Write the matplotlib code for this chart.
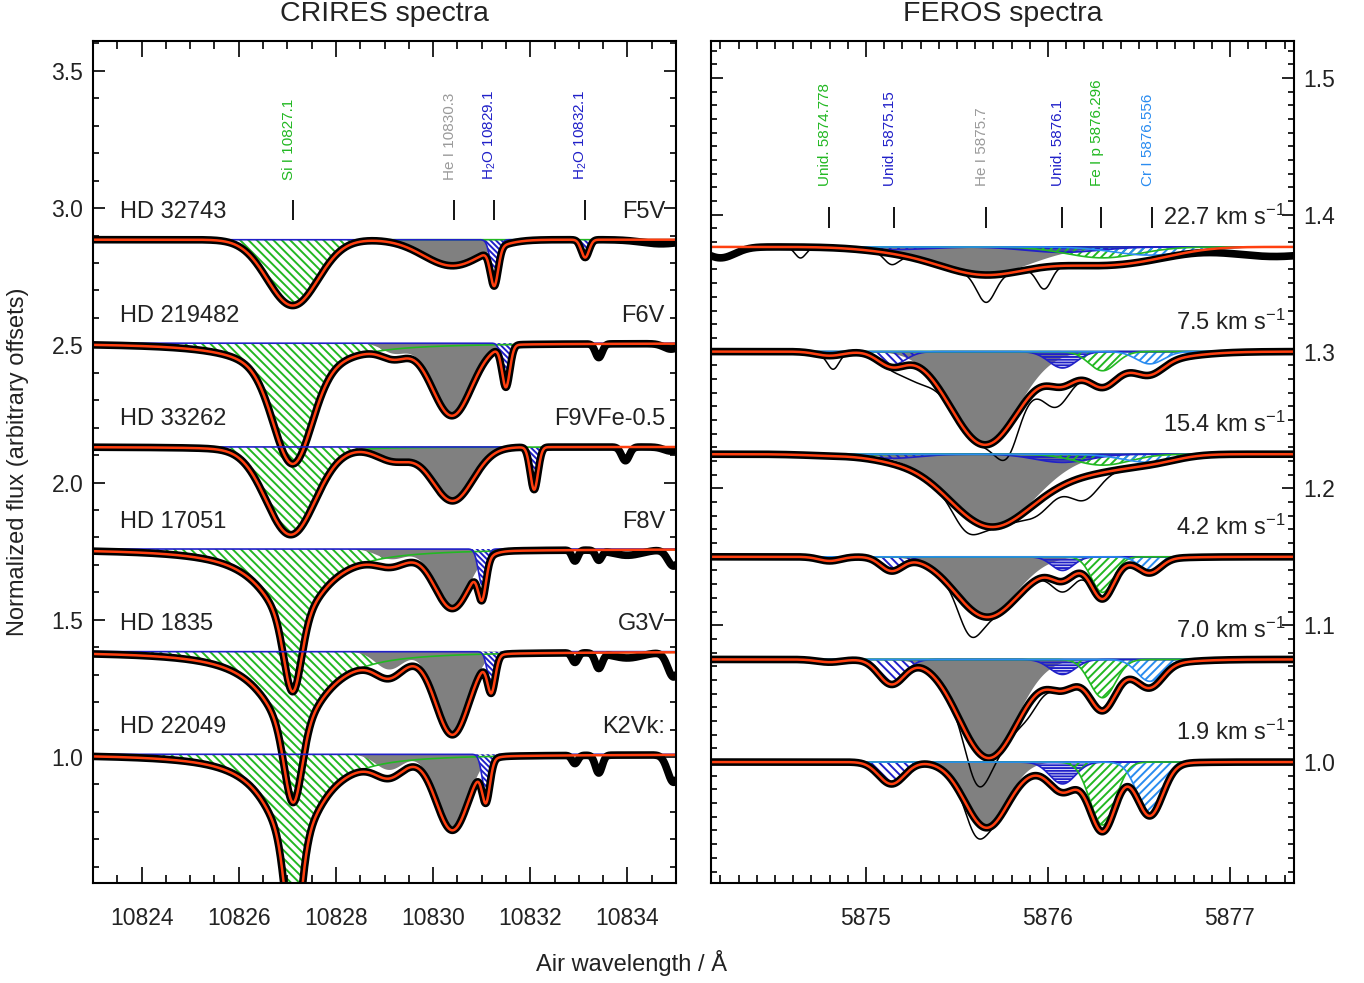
import numpy as np
import matplotlib
matplotlib.use('Agg')
import matplotlib.pyplot as plt
import matplotlib.transforms as mtransforms
from matplotlib.ticker import MultipleLocator, FormatStrFormatter

plt.rcParams['font.family'] = ['Liberation Sans', 'DejaVu Sans']
plt.rcParams['mathtext.fontset'] = 'custom'
plt.rcParams['mathtext.rm'] = 'Liberation Sans'
plt.rcParams['mathtext.it'] = 'Liberation Sans:italic'
plt.rcParams['hatch.linewidth'] = 1.4

# --- stars (top to bottom) ---
STARS = ['HD 32743', 'HD 219482', 'HD 33262', 'HD 17051', 'HD 1835', 'HD 22049']
SPTYPES = ['F5V', 'F6V', 'F9VFe-0.5', 'F8V', 'G3V', 'K2Vk:']
VSINI = ['22.7', '7.5', '15.4', '4.2', '7.0', '1.9']

# --- CRIRES fit components ---
CR_CONT = [2.885, 2.508, 2.130, 1.758, 1.384, 1.010]
SI_CENTER = [10827.11, 10827.11, 10827.07, 10827.11, 10827.12, 10827.12]
SI_CORE_DEPTH = [0.24, 0.27, 0.29, 0.24, 0.25, 0.35]
SI_CORE_SIGMA = [0.52, 0.38, 0.50, 0.17, 0.17, 0.15]
SI_WING_DEPTH = [0.0, 0.17, 0.03, 0.28, 0.30, 0.35]
SI_WING_GAMMA = [0.8, 0.8, 0.8, 0.70, 0.70, 0.62]
HE_CENTER = [10830.40, 10830.39, 10830.40, 10830.40, 10830.40, 10830.40]
HE_DEPTH = [0.095, 0.255, 0.195, 0.205, 0.29, 0.265]
HE_SIGMA = [0.60, 0.40, 0.42, 0.36, 0.34, 0.33]
BLEND_CENTER = [10829.2, 10829.2, 10829.2, 10829.15, 10829.1, 10829.1]
BLEND_DEPTH = [0.0, 0.036, 0.048, 0.037, 0.065, 0.057]
BLEND_SIGMA = [0.3, 0.25, 0.35, 0.3, 0.28, 0.28]
H2O_CENTER = [10831.26, 10831.50, 10832.08, 10831.01, 10831.20, 10831.09]
H2O_DEPTH = [0.135, 0.15, 0.155, 0.13, 0.125, 0.14]
H2O_SIGMA = [0.08, 0.08, 0.08, 0.08, 0.08, 0.08]
H2O2_CENTER = [10833.13, 10833.41, 10833.96, 10832.92, 10833.41, 10833.41]
H2O2_DEPTH = [0.065, 0.0, 0.0, 0.0, 0.0, 0.0]
# features seen only in the observed spectrum (centre, depth, width)
CR_OBS_EXTRA = [
    [(10834.7, 0.015, 0.4)],
    [(10833.41, 0.05, 0.07), (10834.9, 0.02, 0.15)],
    [(10833.96, 0.05, 0.08), (10834.9, 0.015, 0.15)],
    [(10832.92, 0.04, 0.06), (10833.41, 0.035, 0.06), (10834.0, 0.02, 0.3), (10834.95, 0.06, 0.12)],
    [(10832.92, 0.035, 0.06), (10833.41, 0.055, 0.07), (10834.0, 0.02, 0.3), (10834.95, 0.09, 0.12)],
    [(10832.92, 0.03, 0.06), (10833.41, 0.065, 0.07), (10834.95, 0.10, 0.12)],
]
CR_LINE_LABELS = ['Si I 10827.1', 'He I 10830.3', 'H$_2$O 10829.1', 'H$_2$O 10832.1']
CR_LINE_POS = [10827.11, 10830.43, 10831.26, 10833.13]

# --- FEROS fit components ---
FE_CONT = [1.3765, 1.300, 1.225, 1.150, 1.075, 1.000]
FHE_CENTER = [5875.65, 5875.65, 5875.69, 5875.66, 5875.67, 5875.66]
FHE_DEPTH = [0.020, 0.067, 0.053, 0.042, 0.070, 0.046]
FHE_SIGMA = [0.26, 0.185, 0.24, 0.17, 0.16, 0.117]
# metal lines: Unid. 5874.778, Unid. 5875.15, Unid. 5876.1, Fe I p, Cr I
METAL_CENTER = [5874.80, 5875.14, 5876.08, 5876.30, 5876.56]
METAL_DEPTH = [
    [0.000, 0.002, 0.004, 0.008, 0.006],
    [0.003, 0.010, 0.012, 0.014, 0.009],
    [0.001, 0.003, 0.006, 0.008, 0.006],
    [0.003, 0.010, 0.010, 0.026, 0.010],
    [0.002, 0.018, 0.011, 0.028, 0.016],
    [0.000, 0.016, 0.016, 0.046, 0.0375],
]
METAL_SIGMA = [0.20, 0.075, 0.15, 0.06, 0.07, 0.07]
BROAD_CENTER = [5876.3, 5876.3, 5876.3, 5876.1, 5876.2, 5876.1]
BROAD_DEPTH = [0.0, 0.012, 0.0, 0.006, 0.010, 0.006]
BROAD_SIGMA = [0.3, 0.3, 0.3, 0.3, 0.3, 0.3]
# thin comparison spectrum: extra absorption relative to the fit
THIN_EXTRA = [
    [(5874.64, 0.008, 0.03), (5875.14, 0.008, 0.04), (5875.66, 0.02, 0.05), (5875.98, 0.016, 0.04)],
    [(5874.82, 0.010, 0.03), (5875.28, 0.012, 0.08), (5875.78, 0.022, 0.06), (5876.03, 0.015, 0.07)],
    [(5875.55, 0.012, 0.07), (5875.95, 0.010, 0.08), (5876.20, 0.017, 0.08)],
    [(5875.57, 0.020, 0.06), (5876.10, 0.008, 0.08)],
    [(5875.61, 0.025, 0.06), (5875.90, 0.010, 0.06)],
    [(5875.60, 0.012, 0.05)],
]
FE_OBS_EXTRA = [
    [(5874.20, 0.008, 0.08), (5877.25, 0.007, 0.25)],
    [], [], [], [], [],
]
FE_LINE_LABELS = ['Unid. 5874.778', 'Unid. 5875.15', 'He I 5875.7', 'Unid. 5876.1',
                  'Fe I p 5876.296', 'Cr I 5876.556']
FE_LINE_POS = [5874.797, 5875.154, 5875.659, 5876.077, 5876.291, 5876.571]

GREEN = '#22b822'
BLUE = '#2020c8'
LBLUE = '#2a8cf0'
RED = '#ff4010'
GREY_FILL = '#808080'
GREY_TXT = '#9a9a9a'
TXT = '#222222'

CR_LINE_COLORS = [GREEN, GREY_TXT, BLUE, BLUE]
FE_LINE_COLORS = [GREEN, BLUE, GREY_TXT, BLUE, GREEN, LBLUE]
METAL_COLORS = [GREEN, BLUE, BLUE, GREEN, LBLUE]
METAL_HATCH = ['////', '\\' * 4, '-' * 6, '////', '////']
SI_HATCH = '\\' * 4
H2O_HATCH = '\\' * 6


def gauss(x, c, d, s):
    return d * np.exp(-0.5 * ((x - c) / s) ** 2)


def lorentz(x, c, d, g):
    return d / (1.0 + ((x - c) / g) ** 2)


def style_axis(ax, right_labels=False):
    for sp in ax.spines.values():
        sp.set_linewidth(1.5)
    ax.tick_params(which='both', direction='in', top=True, bottom=True,
                   left=True, right=True, width=1.2, colors='black',
                   labelcolor=TXT, labelsize=16.5)
    ax.tick_params(axis='x', which='major', length=11.5, pad=17)
    ax.tick_params(axis='x', which='minor', length=5.8)
    ax.tick_params(axis='y', which='major', length=8.6, pad=7)
    ax.tick_params(axis='y', which='minor', length=4.3)
    if right_labels:
        ax.tick_params(axis='y', labelleft=False, labelright=True)


fig = plt.figure(figsize=(13.64, 9.83), dpi=100)
W, H = 1364.0, 983.0
ax1 = fig.add_axes([93 / W, 1 - 883 / H, 583 / W, 842 / H])
ax2 = fig.add_axes([711 / W, 1 - 883 / H, 583 / W, 842 / H])

# ---------------- CRIRES ----------------
wl = np.linspace(10823, 10835, 1500)
for i in range(len(STARS)):
    c0 = CR_CONT[i]
    si = (gauss(wl, SI_CENTER[i], SI_CORE_DEPTH[i], SI_CORE_SIGMA[i])
          + lorentz(wl, SI_CENTER[i], SI_WING_DEPTH[i], SI_WING_GAMMA[i]))
    he = (gauss(wl, HE_CENTER[i], HE_DEPTH[i], HE_SIGMA[i])
          + gauss(wl, BLEND_CENTER[i], BLEND_DEPTH[i], BLEND_SIGMA[i]))
    h2o = (gauss(wl, H2O_CENTER[i], H2O_DEPTH[i], H2O_SIGMA[i])
           + gauss(wl, H2O2_CENTER[i], H2O2_DEPTH[i], H2O_SIGMA[i]))
    model = c0 - si - he - h2o
    obs = model.copy()
    for (c, d, s) in CR_OBS_EXTRA[i]:
        obs -= gauss(wl, c, d, s)

    ax1.fill_between(wl, c0, c0 - si, facecolor='none', edgecolor=GREEN,
                     hatch=SI_HATCH, linewidth=0)
    ax1.plot(wl, c0 - si, color=GREEN, lw=1.2)
    ax1.fill_between(wl, c0, c0 - he, facecolor=GREY_FILL, linewidth=0)
    ax1.fill_between(wl, c0, c0 - h2o, facecolor='white', edgecolor=BLUE,
                     hatch=H2O_HATCH, linewidth=0)
    ax1.plot(wl, c0 - h2o, color=BLUE, lw=1.2)
    ax1.plot(wl, obs, color='black', lw=5.5, solid_capstyle='round')
    ax1.plot(wl, model, color=RED, lw=1.8)

    ax1.text(10823.55, c0 + 0.10, STARS[i], fontsize=17, color=TXT,
             ha='left', va='center')
    ax1.text(0.981, c0 + 0.10, SPTYPES[i], fontsize=17, color=TXT,
             ha='right', va='center', transform=ax1.get_yaxis_transform())

shift1 = mtransforms.offset_copy(ax1.transData, fig=fig, x=-4, y=0, units='dots')
ax1.vlines(CR_LINE_POS, 2.958, 3.03, color='black', lw=1.3)
for pos, lab, col in zip(CR_LINE_POS, CR_LINE_LABELS, CR_LINE_COLORS):
    ax1.text(pos, 3.103, lab, rotation=90, ha='center', va='bottom',
             fontsize=11, color=col, transform=shift1)

ax1.set_xlim(10823, 10835)
ax1.set_ylim(0.541, 3.609)
ax1.xaxis.set_major_locator(MultipleLocator(2))
ax1.xaxis.set_minor_locator(MultipleLocator(0.5))
ax1.xaxis.set_major_formatter(FormatStrFormatter('%d'))
ax1.yaxis.set_major_locator(MultipleLocator(0.5))
ax1.yaxis.set_minor_locator(MultipleLocator(0.1))
ax1.yaxis.set_major_formatter(FormatStrFormatter('%.1f'))
style_axis(ax1)

# ---------------- FEROS ----------------
wf = np.linspace(5874.148, 5877.352, 1200)
for i in range(len(STARS)):
    c0 = FE_CONT[i]
    he = gauss(wf, FHE_CENTER[i], FHE_DEPTH[i], FHE_SIGMA[i])
    metals = [gauss(wf, METAL_CENTER[k], METAL_DEPTH[i][k], METAL_SIGMA[i])
              for k in range(len(METAL_CENTER))]
    broad = gauss(wf, BROAD_CENTER[i], BROAD_DEPTH[i], BROAD_SIGMA[i])
    model = c0 - he - sum(metals) - broad
    obs = model.copy()
    for (c, d, s) in FE_OBS_EXTRA[i]:
        obs -= gauss(wf, c, d, s)
    thin = model.copy()
    for (c, d, s) in THIN_EXTRA[i]:
        thin -= gauss(wf, c, d, s)

    ax2.fill_between(wf, c0, c0 - he, facecolor=GREY_FILL, linewidth=0)
    for k, m in enumerate(metals):
        ax2.fill_between(wf, c0, c0 - m, facecolor='none', edgecolor=METAL_COLORS[k],
                         hatch=METAL_HATCH[k], linewidth=0)
    for k, m in enumerate(metals):
        ax2.plot(wf, c0 - m, color=METAL_COLORS[k], lw=1.2)
    ax2.plot(wf, obs, color='black', lw=5.5, solid_capstyle='round')
    ax2.plot(wf, thin, color='black', lw=1.1)
    ax2.plot(wf, model, color=RED, lw=1.8)

    ax2.text(0.985, c0 + 0.0215, VSINI[i] + r' km s$^{-1}$', fontsize=17, color=TXT,
             ha='right', va='center', transform=ax2.get_yaxis_transform())

shift2 = mtransforms.offset_copy(ax2.transData, fig=fig, x=-4, y=0, units='dots')
ax2.vlines(FE_LINE_POS, 1.3905, 1.4057, color='black', lw=1.3)
for pos, lab, col in zip(FE_LINE_POS, FE_LINE_LABELS, FE_LINE_COLORS):
    ax2.text(pos, 1.421, lab, rotation=90, ha='center', va='bottom',
             fontsize=11, color=col, transform=shift2)

ax2.set_xlim(5874.148, 5877.352)
ax2.set_ylim(0.9116, 1.527)
ax2.xaxis.set_major_locator(MultipleLocator(1))
ax2.xaxis.set_minor_locator(MultipleLocator(0.1))
ax2.xaxis.set_major_formatter(FormatStrFormatter('%d'))
ax2.yaxis.set_major_locator(MultipleLocator(0.1))
ax2.yaxis.set_minor_locator(MultipleLocator(0.01))
ax2.yaxis.set_major_formatter(FormatStrFormatter('%.1f'))
style_axis(ax2, right_labels=True)

# titles and axis labels
fig.text((93 + 583 / 2) / W, 1 - 14 / H, 'CRIRES spectra', fontsize=20.5,
         color=TXT, ha='center', va='center')
fig.text((711 + 583 / 2) / W, 1 - 14 / H, 'FEROS spectra', fontsize=20.5,
         color=TXT, ha='center', va='center')
fig.text(18 / W, 1 - 462 / H, 'Normalized flux (arbitrary offsets)', fontsize=17,
         color=TXT, rotation=90, ha='center', va='center')
fig.text(631 / W, 1 - 963 / H, 'Air wavelength / Å', fontsize=17,
         color=TXT, ha='center', va='center')

fig.savefig('out.png', dpi=100)
